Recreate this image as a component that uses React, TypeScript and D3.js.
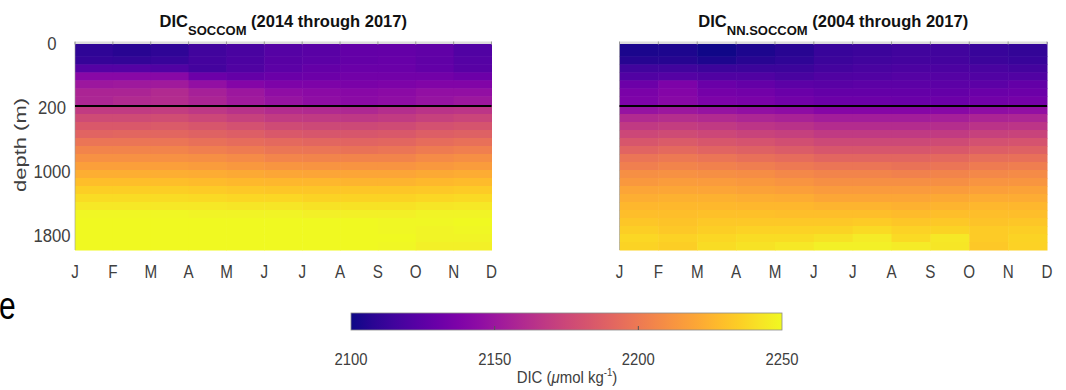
import React from 'react';
import * as d3 from 'd3';

const months = ['J', 'F', 'M', 'A', 'M', 'J', 'J', 'A', 'S', 'O', 'N', 'D'];
const depthEdges = [0, 45, 70, 95, 120, 145, 170, 200, 300, 400, 500, 600, 700, 800, 900, 1000,
  1100, 1200, 1300, 1400, 1500, 1600, 1700, 1800, 1900, 2000];
const depthTicks = [0, 200, 1000, 1800];
const colorTicks = [2100, 2150, 2200, 2250];

// rows = depth bands (top -> bottom), cols = Jan-Feb ... Nov-Dec
const dicSoccom = [
  [2109, 2107, 2109, 2115, 2118, 2122, 2124, 2127, 2128, 2126, 2121],
  [2111, 2110, 2112, 2116, 2119, 2123, 2125, 2128, 2129, 2126, 2122],
  [2122, 2122, 2121, 2116, 2120, 2125, 2128, 2130, 2130, 2127, 2123],
  [2142, 2142, 2142, 2131, 2128, 2130, 2131, 2133, 2133, 2133, 2131],
  [2150, 2151, 2152, 2146, 2140, 2137, 2137, 2136, 2137, 2139, 2139],
  [2157, 2157, 2160, 2155, 2150, 2145, 2143, 2142, 2143, 2146, 2146],
  [2158, 2160, 2161, 2157, 2152, 2148, 2145, 2143, 2145, 2148, 2150],
  [2169, 2169, 2170, 2167, 2164, 2161, 2160, 2159, 2162, 2165, 2166],
  [2177, 2177, 2178, 2175, 2172, 2169, 2168, 2167, 2169, 2172, 2174],
  [2184, 2184, 2185, 2183, 2180, 2177, 2176, 2176, 2177, 2180, 2182],
  [2190, 2191, 2191, 2189, 2187, 2184, 2183, 2183, 2184, 2187, 2188],
  [2198, 2198, 2198, 2196, 2194, 2192, 2191, 2190, 2191, 2194, 2196],
  [2205, 2205, 2205, 2203, 2201, 2199, 2198, 2197, 2198, 2201, 2203],
  [2211, 2211, 2211, 2210, 2208, 2206, 2205, 2205, 2205, 2208, 2210],
  [2217, 2217, 2217, 2216, 2214, 2213, 2212, 2212, 2212, 2214, 2216],
  [2223, 2223, 2223, 2222, 2221, 2220, 2219, 2219, 2219, 2221, 2222],
  [2229, 2229, 2229, 2228, 2227, 2226, 2226, 2225, 2225, 2227, 2228],
  [2235, 2235, 2235, 2234, 2233, 2232, 2232, 2232, 2232, 2233, 2234],
  [2240, 2240, 2240, 2239, 2238, 2238, 2237, 2237, 2237, 2238, 2239],
  [2244, 2244, 2244, 2244, 2243, 2243, 2242, 2242, 2242, 2243, 2244],
  [2249, 2249, 2249, 2248, 2248, 2248, 2247, 2247, 2247, 2248, 2248],
  [2251, 2251, 2251, 2251, 2250, 2250, 2250, 2250, 2249, 2249, 2250],
  [2252, 2252, 2252, 2252, 2251, 2251, 2251, 2250, 2249, 2248, 2249],
  [2253, 2253, 2253, 2252, 2252, 2251, 2251, 2250, 2250, 2248, 2248],
  [2253, 2253, 2253, 2252, 2252, 2251, 2251, 2250, 2249, 2247, 2247],
];

const dicNN = [
  [2103, 2104, 2101, 2104, 2107, 2112, 2113, 2115, 2115, 2112, 2110],
  [2106, 2106, 2104, 2107, 2109, 2113, 2115, 2116, 2116, 2113, 2112],
  [2115, 2115, 2113, 2113, 2113, 2116, 2118, 2119, 2119, 2118, 2116],
  [2121, 2122, 2120, 2120, 2118, 2120, 2121, 2122, 2122, 2121, 2121],
  [2131, 2137, 2130, 2128, 2125, 2124, 2125, 2125, 2125, 2125, 2127],
  [2136, 2140, 2134, 2133, 2130, 2128, 2128, 2128, 2128, 2130, 2131],
  [2138, 2142, 2137, 2136, 2133, 2131, 2131, 2130, 2131, 2133, 2134],
  [2148, 2150, 2148, 2146, 2144, 2141, 2141, 2141, 2142, 2145, 2146],
  [2160, 2162, 2160, 2158, 2156, 2153, 2153, 2153, 2154, 2157, 2158],
  [2168, 2170, 2168, 2166, 2164, 2161, 2161, 2161, 2162, 2165, 2166],
  [2175, 2177, 2175, 2173, 2171, 2168, 2168, 2168, 2169, 2172, 2173],
  [2183, 2185, 2183, 2181, 2179, 2176, 2176, 2176, 2177, 2180, 2181],
  [2190, 2192, 2190, 2188, 2186, 2183, 2183, 2183, 2184, 2187, 2188],
  [2198, 2200, 2198, 2196, 2194, 2191, 2191, 2191, 2192, 2195, 2196],
  [2203, 2205, 2204, 2202, 2200, 2198, 2198, 2197, 2198, 2201, 2202],
  [2210, 2211, 2210, 2209, 2207, 2205, 2205, 2204, 2205, 2207, 2208],
  [2214, 2216, 2215, 2214, 2212, 2210, 2210, 2210, 2210, 2212, 2213],
  [2219, 2220, 2219, 2218, 2217, 2215, 2215, 2215, 2216, 2217, 2218],
  [2223, 2224, 2224, 2223, 2222, 2220, 2220, 2220, 2221, 2222, 2222],
  [2226, 2227, 2227, 2226, 2226, 2225, 2225, 2224, 2225, 2226, 2226],
  [2229, 2229, 2230, 2230, 2229, 2229, 2229, 2228, 2229, 2229, 2229],
  [2232, 2231, 2233, 2233, 2233, 2233, 2234, 2232, 2233, 2231, 2232],
  [2235, 2233, 2235, 2236, 2236, 2237, 2239, 2236, 2237, 2234, 2235],
  [2238, 2236, 2238, 2240, 2240, 2242, 2245, 2239, 2244, 2234, 2237],
  [2237, 2235, 2240, 2242, 2244, 2247, 2247, 2245, 2243, 2233, 2236],
];

const color = d3.scaleSequential(d3.interpolatePlasma).domain([2100, 2250]).clamp(true);
const y = d3.scaleLinear().domain([0, 200, 2000]).range([42, 106, 250]);
const font = 'Liberation Sans, Arial, sans-serif';
const axisGray = '#404040';

// text placed with a translate + scale (the source figure's glyphs are narrow/tall)
const T = ({x, y: ty, sx = 1, sy = 1, rot = 0, children, ...rest}) => (
  <text transform={`translate(${x},${ty}) rotate(${rot}) scale(${sx},${sy})`} fontFamily={font} {...rest}>
    {children}
  </text>
);

const Panel = ({x0, x1, data, sub, period, showY}) => {
  const x = d3.scaleLinear().domain([0, 11]).range([x0, x1]);
  const mid = (x0 + x1) / 2;
  return (
    <g>
      {data.map((row, i) => row.map((v, j) => (
        <rect key={i + '-' + j}
          x={x(j)} y={y(depthEdges[i])}
          width={x(j + 1) - x(j) + 0.5}
          height={y(depthEdges[i + 1]) - y(depthEdges[i]) + 0.5}
          fill={color(v)} />
      )))}
      <rect x={x0} y={41.5} width={x1 - x0} height={2.5} fill="#dcdcdc" />
      {months.map((m, j) => (
        <line key={'t' + j} x1={x(j)} x2={x(j)} y1={41.5} y2={44.5} stroke="#9a9a9a" strokeWidth={1} />
      ))}
      <line x1={x0} x2={x0} y1={42} y2={250} stroke="#999" strokeOpacity={0.6} />
      <line x1={x0} x2={x1} y1={y(200)} y2={y(200)} stroke="#000" strokeWidth={2} />
      {months.map((m, j) => (
        <T key={'m' + j} x={x(j)} y={278} sx={0.8} textAnchor="middle" fontSize={19} fill={axisGray}>{m}</T>
      ))}
      {showY && depthTicks.map(d => (
        <T key={'d' + d} x={52} y={y(d) + 2} sx={0.88} textAnchor="middle" dominantBaseline="central"
          fontSize={19} fill={axisGray}>{d}</T>
      ))}
      <text x={mid} y={27} textAnchor="middle" fontFamily={font} fontWeight="bold" fontSize={16.5} fill="#111">
        DIC<tspan dy={8} fontSize={13}>{sub}</tspan><tspan dy={-8} fontSize={16.5}>{' ' + period}</tspan>
      </text>
    </g>
  );
};

const App = () => {
  const cb = d3.scaleLinear().domain([2100, 2250]).range([351, 782]);
  const stops = d3.range(0, 1.0001, 0.05);
  return (
    <svg width={1066} height={390} style={{position: 'absolute', left: 0, top: 0, background: '#fff'}}>
      <defs>
        <linearGradient id="plasma" x1="0" x2="1" y1="0" y2="0">
          {stops.map(t => <stop key={t} offset={t} stopColor={d3.interpolatePlasma(t)} />)}
        </linearGradient>
      </defs>
      <Panel x0={75} x1={491.5} data={dicSoccom} sub="SOCCOM" period="(2014 through 2017)" showY />
      <Panel x0={619.5} x1={1047} data={dicNN} sub="NN.SOCCOM" period="(2004 through 2017)" showY={false} />
      <T x={20} y={145} rot={-90} sy={0.78} textAnchor="middle" dominantBaseline="central"
        fontSize={22} fill={axisGray}>depth (m)</T>

      <rect x={cb(2100)} y={313} width={cb(2250) - cb(2100)} height={17} fill="url(#plasma)"
        stroke="#8a8a8a" strokeWidth={0.8} />
      {colorTicks.slice(1, -1).map(v => (
        <line key={'c' + v} x1={cb(v)} x2={cb(v)} y1={326} y2={330} stroke="#555" />
      ))}
      {colorTicks.map(v => (
        <T key={'cl' + v} x={cb(v)} y={365} sx={0.9} textAnchor="middle" fontSize={16.5}
          fill={axisGray}>{v}</T>
      ))}
      <T x={567} y={383} sx={0.88} textAnchor="middle" fontSize={17} fill={axisGray}>
        DIC (<tspan fontStyle="italic">μ</tspan>mol kg<tspan dy={-7} fontSize={11}>-1</tspan><tspan dy={7}>)</tspan>
      </T>
      <T x={-1} y={319} sy={1.3} fontSize={30} fill="#000">e</T>
    </svg>
  );
};

export default App;
